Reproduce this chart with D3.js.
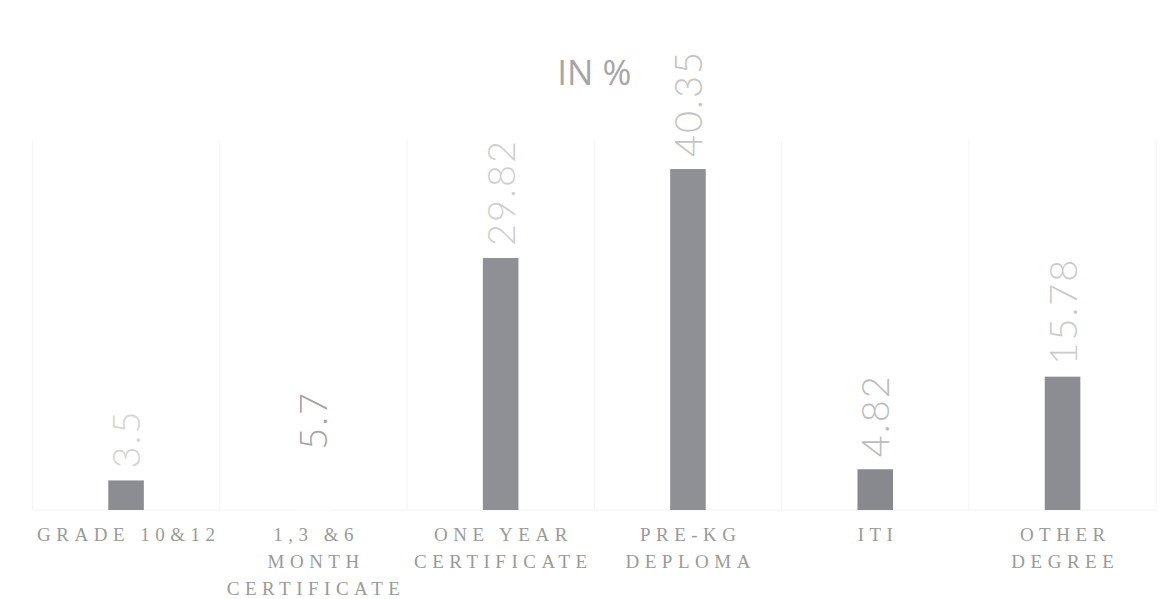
<!DOCTYPE html>
<html>

<head>
    <meta charset="utf-8">
    <style type="text/css">
        body {
            margin: 0;
            background: #fff;
        }

        .bar {
            fill: #8c8d92;
        }

        .value {
            font-family: Lato, "Open Sans", sans-serif;
            font-weight: 300;
            font-size: 38px;
            letter-spacing: 2px;
        }

        .cat text {
            font-family: "Liberation Serif", serif;
            font-size: 19px;
            letter-spacing: 5.5px;
            fill: #9a9a9a;
        }

        #title {
            font-family: "Open Sans", sans-serif;
            font-size: 35px;
            fill: #a6a6a6;
        }
    </style>
    <title>IN %</title>
</head>

<body>
    <svg id="graph"></svg>

    <script src="https://cdn.jsdelivr.net/npm/d3@7"></script>
    <script>
        // Data
        var categories = ['GRADE 10&12', '1,3 &6\nMONTH\nCERTIFICATE', 'ONE YEAR\nCERTIFICATE', 'PRE-KG\nDEPLOMA', 'ITI', 'OTHER\nDEGREE'];
        var values = [3.5, 5.7, 29.82, 40.35, 4.82, 15.78];
        var valueLabels = ['3.5', '5.7', '29.82', '40.35', '4.82', '15.78'];

        // looks of the scan: second bar is invisible, labels differ in shade
        var barShade = ['#8c8d92', '#ffffff', '#8f9095', '#8f9095', '#88898e', '#8c8d92'];
        var labelShade = ['#d4d4d4', '#a4a4a4', '#cfcfcf', '#c4c4c4', '#bcbcbc', '#cbcbcb'];

        var width = 1170, height = 599;
        var baseY = 510;

        var svg = d3.select('#graph')
            .attr('width', width)
            .attr('height', height);

        var x = d3.scaleBand()
            .domain(categories)
            .range([32.4, 1156.2])
            .paddingInner(0.81)
            .paddingOuter(0.405);

        var y = d3.scaleLinear()
            .domain([0, 45])
            .range([baseY, baseY - 45 * 8.45]);

        // faint scan grid
        var edges = categories.map(d => x(d) - x.step() * 0.405).concat([x.range()[1]]);
        svg.append('g').selectAll('line')
            .data(edges)
            .enter().append('line')
            .attr('x1', d => d).attr('x2', d => d)
            .attr('y1', 140).attr('y2', baseY)
            .attr('stroke', '#f4f4f4');
        svg.append('line')
            .attr('x1', x.range()[0]).attr('x2', x.range()[1])
            .attr('y1', baseY).attr('y2', baseY)
            .attr('stroke', '#f2f2f2');

        // title
        svg.append('text')
            .attr('id', 'title')
            .attr('x', (x(categories[0]) + x(categories[5]) + x.bandwidth()) / 2)
            .attr('y', 85)
            .attr('text-anchor', 'middle')
            .text('IN %');

        // bars
        var items = categories.map((c, i) => ({ cat: c, value: values[i], label: valueLabels[i], i: i }));

        svg.append('g').selectAll('.bar')
            .data(items)
            .enter().append('rect')
            .attr('class', 'bar')
            .attr('x', d => x(d.cat))
            .attr('y', d => y(d.value))
            .attr('width', x.bandwidth())
            .attr('height', d => baseY - y(d.value))
            .style('fill', d => barShade[d.i]);

        // rotated value labels
        svg.append('g').selectAll('.value')
            .data(items)
            .enter().append('text')
            .attr('class', 'value')
            .attr('transform', d => 'translate(' + (x(d.cat) + x.bandwidth() / 2 + 14) + ',' + (y(d.value) - 12) + ') rotate(-90)')
            .attr('text-anchor', 'start')
            .style('fill', d => labelShade[d.i])
            .text(d => d.label);

        // category axis
        var xAxis = d3.axisBottom(x).tickSize(0).tickPadding(0);
        var axisG = svg.append('g')
            .attr('class', 'cat')
            .attr('transform', 'translate(0,' + baseY + ')')
            .call(xAxis);
        axisG.select('.domain').remove();
        axisG.selectAll('.tick text').each(function (d) {
            var t = d3.select(this).text(null).attr('dy', null).attr('y', null);
            d.split('\n').forEach(function (line, k) {
                t.append('tspan')
                    .attr('x', 2.75)
                    .attr('y', 31 + k * 27)
                    .text(line);
            });
        });
    </script>
</body>

</html>
